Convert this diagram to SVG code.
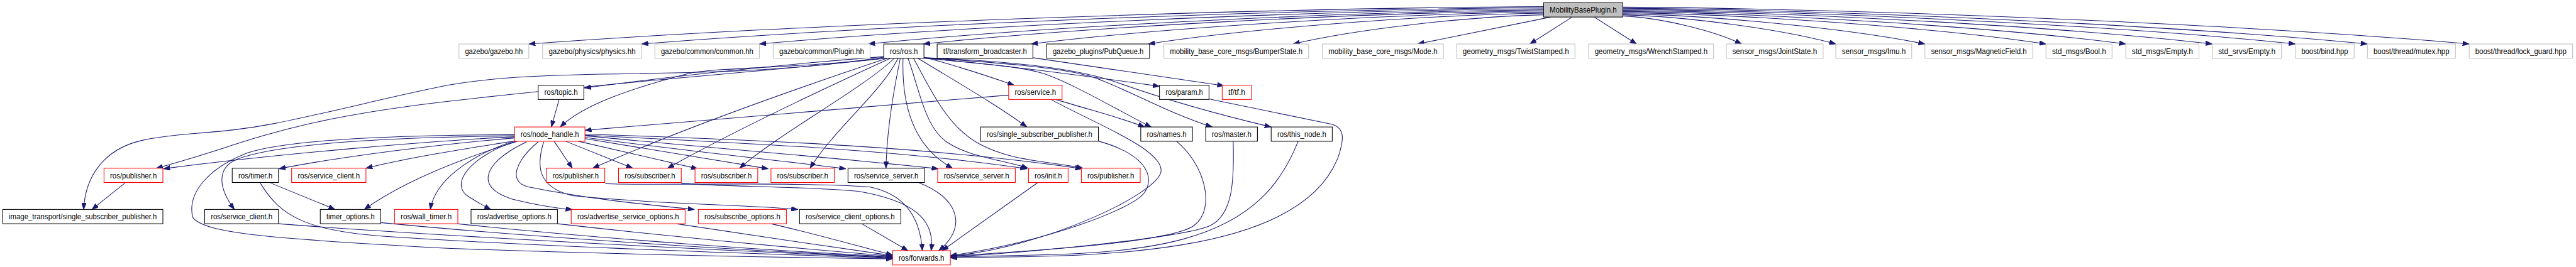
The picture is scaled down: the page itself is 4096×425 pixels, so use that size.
<svg xmlns="http://www.w3.org/2000/svg" width="4096" height="425" viewBox="0 0 4096 425">
<style>
.e{fill:none;stroke:#191970;stroke-width:1.2;marker-end:url(#a)}
rect{fill:#fff;stroke-width:1.2}
.k{stroke:#000}
.r{stroke:#ff0000}
.g{stroke:#bfbfbf}
.root{fill:#bfbfbf;stroke:#000}
text{font-family:"Liberation Sans",Arial,sans-serif;font-size:14px;fill:#000;text-anchor:middle}
</style>
<defs>
<marker id="a" markerUnits="userSpaceOnUse" markerWidth="12" markerHeight="9" viewBox="0 0 12 9" refX="12" refY="4.5" orient="auto"><path d="M0,0L12,4.5L0,9z" fill="#191970" stroke="#191970" stroke-width="0.8"/></marker>
</defs>
<rect x="0" y="0" width="4096" height="425" style="fill:#fff;stroke:none"/>
<g transform="scale(0.875)">
<g id="connectors">
<path class="e" d="M2805,12 C2252,15 1422,46 961,80"/>
<path class="e" d="M2805,14 C2313,17 1576,47 1166,80"/>
<path class="e" d="M2805,16 C2378,19 1736,48 1380,80"/>
<path class="e" d="M2805,18 C2437,21 1885,49 1578,80"/>
<path class="e" d="M2805,20 C2467,23 1960,50 1678,80"/>
<path class="e" d="M2805,22 C2526,25 2107,51 1874,80"/>
<path class="e" d="M2805,24 C2590,27 2267,52 2087,80"/>
<path class="e" d="M2805,27 C2668,30 2464,53 2350,80"/>
<path class="e" d="M2818,31 L2576,80"/>
<path class="e" d="M2857,31 L2780,80"/>
<path class="e" d="M2897,31 L2974,80"/>
<path class="e" d="M2949,29 C3014,32 3111,54 3165,80"/>
<path class="e" d="M2949,27 C3065,30 3239,53 3336,80"/>
<path class="e" d="M2949,25 C3114,28 3361,52 3498,80"/>
<path class="e" d="M2949,23 C3180,26 3526,51 3718,80"/>
<path class="e" d="M2949,21 C3223,24 3634,50 3863,80"/>
<path class="e" d="M2949,19 C3270,22 3752,49 4020,80"/>
<path class="e" d="M2949,17 C3316,20 3865,48 4171,80"/>
<path class="e" d="M2949,15 C3355,18 3964,47 4302,80"/>
<path class="e" d="M2949,13 C3410,16 4102,46 4487,80"/>
<path class="e" d="M1606,104 C1450,128 1300,132 1150,134 S900,140 820,154 S600,205 497,225 S330,240 260,255 S155,320 152,381"/>
<path class="e" d="M1608,106 C1400,130 1100,150 800,186 S450,262 284,306"/>
<path class="e" d="M1606,103 C1450,115 1250,135 1062,160"/>
<path class="e" d="M1606,106 C1450,125 1300,122 1250,134 C1150,160 1060,190 1018,231"/>
<path class="e" d="M1612,106 C1480,150 1250,230 1077,306"/>
<path class="e" d="M1618,106 C1500,160 1330,240 1213,306"/>
<path class="e" d="M1625,106 C1570,160 1420,240 1344,306"/>
<path class="e" d="M1632,106 C1600,170 1520,230 1472,306"/>
<path class="e" d="M1636,106 C1625,160 1612,230 1610,306"/>
<path class="e" d="M1641,106 C1638,200 1665,270 1731,306"/>
<path class="e" d="M1650,106 C1670,160 1680,230 1720,258 S1820,290 1868,306"/>
<path class="e" d="M1660,106 C1690,160 1720,230 1780,262 S1900,292 1968,306"/>
<path class="e" d="M1668,106 C1740,150 1810,190 1866,231"/>
<path class="e" d="M1679,104 C1740,120 1800,140 1843,155"/>
<path class="e" d="M1679,106 C1800,115 1950,135 2107,157"/>
<path class="e" d="M1679,105 C1760,115 1840,118 1890,132 S2030,200 2092,231"/>
<path class="e" d="M1679,105 C1800,113 1930,122 1985,140 S2120,205 2203,231"/>
<path class="e" d="M1679,105 C1850,112 1960,125 2030,150 S2200,205 2310,231"/>
<path class="e" d="M1877,105 L2224,156"/>
<path class="e" d="M1919,181 C1980,200 2040,215 2080,231"/>
<path class="e" d="M1833,173 L1063,237"/>
<path class="e" d="M1910,181 C1990,225 2110,270 2110,310 S1900,450 1727,466"/>
<path class="e" d="M1016,181 L1002,231"/>
<path class="e" d="M935,249 C800,255 500,280 297,307"/>
<path class="e" d="M935,251 C800,262 620,285 507,307"/>
<path class="e" d="M938,256 C850,270 740,287 665,306"/>
<path class="e" d="M940,257 C850,285 740,325 662,381"/>
<path class="e" d="M932,257 C850,285 790,330 782,381"/>
<path class="e" d="M935,247 C700,250 500,262 430,290 C395,305 395,340 426,381"/>
<path class="e" d="M935,245 C700,246 520,255 450,278 C380,305 340,350 350,395 C370,425 500,435 820,452 C1100,462 1400,468 1622,471"/>
<path class="e" d="M936,257 C855,285 815,335 852,358 C868,368 880,375 892,381"/>
<path class="e" d="M957,258 C880,295 860,340 930,362 C970,372 1000,378 1040,381"/>
<path class="e" d="M978,258 C940,290 920,330 960,340 C1060,360 1150,370 1262,381"/>
<path class="e" d="M988,258 C975,300 975,340 1040,356 C1200,372 1350,372 1450,381"/>
<path class="e" d="M1007,257 L1040,306"/>
<path class="e" d="M1028,257 L1150,306"/>
<path class="e" d="M1051,257 L1268,307"/>
<path class="e" d="M1062,252 L1396,307"/>
<path class="e" d="M1063,250 C1250,275 1400,290 1537,307"/>
<path class="e" d="M1063,247 C1300,270 1500,285 1705,307"/>
<path class="e" d="M1063,246 C1400,262 1650,275 1866,307"/>
<path class="e" d="M1063,244 C1400,255 1700,268 1966,307"/>
<path class="e" d="M227,333 L167,381"/>
<path class="e" d="M492,333 L609,381"/>
<path class="e" d="M473,333 C510,395 560,420 700,430 C1000,450 1400,462 1622,470"/>
<path class="e" d="M506,407 C800,430 1300,455 1622,469"/>
<path class="e" d="M692,405 C1000,435 1400,458 1622,468"/>
<path class="e" d="M831,407 C1100,435 1400,456 1622,467"/>
<path class="e" d="M1013,407 C1200,428 1450,452 1622,466"/>
<path class="e" d="M1229,407 C1350,425 1500,448 1622,465"/>
<path class="e" d="M1401,407 C1480,425 1560,448 1622,464"/>
<path class="e" d="M1566,407 L1650,456"/>
<path class="e" d="M1100,334 C1150,338 1450,330 1580,340 C1640,352 1672,390 1676,456"/>
<path class="e" d="M1238,333 C1300,340 1450,338 1560,348 C1660,365 1700,400 1692,456"/>
<path class="e" d="M1669,332 C1740,360 1760,410 1706,456"/>
<path class="e" d="M1886,332 L1712,456"/>
<path class="e" d="M1997,257 C2080,280 2100,320 2080,350 S1900,440 1727,465"/>
<path class="e" d="M2138,257 C2190,300 2210,380 2170,410 S1900,455 1727,466"/>
<path class="e" d="M2241,257 C2243,330 2240,390 2200,410 S1900,458 1727,467"/>
<path class="e" d="M2359,257 C2330,330 2280,400 2150,435 S1850,462 1727,468"/>
<path class="e" d="M2197,180 L2420,226 C2445,233 2442,255 2432,285 C2400,370 2300,420 2150,445 S1850,466 1727,469"/>
</g>
<g id="n-root"><rect class="root" x="2805" y="5" width="144" height="26"/><text x="2877" y="23" textLength="122" lengthAdjust="spacingAndGlyphs">MobilityBasePlugin.h</text></g>
<g id="n-gazebo"><rect class="g" x="834" y="80" width="127" height="26"/><text x="897.5" y="98" textLength="105" lengthAdjust="spacingAndGlyphs">gazebo/gazebo.hh</text></g>
<g id="n-physics"><rect class="g" x="986" y="80" width="180" height="26"/><text x="1076" y="98" textLength="158" lengthAdjust="spacingAndGlyphs">gazebo/physics/physics.hh</text></g>
<g id="n-common"><rect class="g" x="1190" y="80" width="190" height="26"/><text x="1285" y="98" textLength="168" lengthAdjust="spacingAndGlyphs">gazebo/common/common.hh</text></g>
<g id="n-plugin"><rect class="g" x="1405" y="80" width="176" height="26"/><text x="1493" y="98" textLength="154" lengthAdjust="spacingAndGlyphs">gazebo/common/Plugin.hh</text></g>
<g id="n-ros"><rect class="k" x="1606" y="80" width="73" height="26"/><text x="1642.5" y="98" textLength="51" lengthAdjust="spacingAndGlyphs">ros/ros.h</text></g>
<g id="n-tfbc"><rect class="k" x="1703" y="80" width="174" height="26"/><text x="1790" y="98" textLength="152" lengthAdjust="spacingAndGlyphs">tf/transform_broadcaster.h</text></g>
<g id="n-pubqueue"><rect class="k" x="1902" y="80" width="187" height="26"/><text x="1995.5" y="98" textLength="165" lengthAdjust="spacingAndGlyphs">gazebo_plugins/PubQueue.h</text></g>
<g id="n-bumper"><rect class="g" x="2115" y="80" width="263" height="26"/><text x="2246.5" y="98" textLength="241" lengthAdjust="spacingAndGlyphs">mobility_base_core_msgs/BumperState.h</text></g>
<g id="n-mode"><rect class="g" x="2403" y="80" width="220" height="26"/><text x="2513" y="98" textLength="198" lengthAdjust="spacingAndGlyphs">mobility_base_core_msgs/Mode.h</text></g>
<g id="n-twist"><rect class="g" x="2647" y="80" width="215" height="26"/><text x="2754.5" y="98" textLength="193" lengthAdjust="spacingAndGlyphs">geometry_msgs/TwistStamped.h</text></g>
<g id="n-wrench"><rect class="g" x="2887" y="80" width="227" height="26"/><text x="3000.5" y="98" textLength="205" lengthAdjust="spacingAndGlyphs">geometry_msgs/WrenchStamped.h</text></g>
<g id="n-joint"><rect class="g" x="3137" y="80" width="176" height="26"/><text x="3225" y="98" textLength="154" lengthAdjust="spacingAndGlyphs">sensor_msgs/JointState.h</text></g>
<g id="n-imu"><rect class="g" x="3336" y="80" width="138" height="26"/><text x="3405" y="98" textLength="116" lengthAdjust="spacingAndGlyphs">sensor_msgs/Imu.h</text></g>
<g id="n-mag"><rect class="g" x="3498" y="80" width="196" height="26"/><text x="3596" y="98" textLength="174" lengthAdjust="spacingAndGlyphs">sensor_msgs/MagneticField.h</text></g>
<g id="n-bool"><rect class="g" x="3718" y="80" width="120" height="26"/><text x="3778" y="98" textLength="98" lengthAdjust="spacingAndGlyphs">std_msgs/Bool.h</text></g>
<g id="n-empty"><rect class="g" x="3863" y="80" width="133" height="26"/><text x="3929.5" y="98" textLength="111" lengthAdjust="spacingAndGlyphs">std_msgs/Empty.h</text></g>
<g id="n-srvempty"><rect class="g" x="4020" y="80" width="126" height="26"/><text x="4083" y="98" textLength="104" lengthAdjust="spacingAndGlyphs">std_srvs/Empty.h</text></g>
<g id="n-bind"><rect class="g" x="4171" y="80" width="107" height="26"/><text x="4224.5" y="98" textLength="85" lengthAdjust="spacingAndGlyphs">boost/bind.hpp</text></g>
<g id="n-mutex"><rect class="g" x="4302" y="80" width="160" height="26"/><text x="4382" y="98" textLength="138" lengthAdjust="spacingAndGlyphs">boost/thread/mutex.hpp</text></g>
<g id="n-lockguard"><rect class="g" x="4487" y="80" width="188" height="26"/><text x="4581" y="98" textLength="166" lengthAdjust="spacingAndGlyphs">boost/thread/lock_guard.hpp</text></g>
<g id="n-topic"><rect class="k" x="978" y="155" width="83" height="26"/><text x="1019.5" y="173" textLength="61" lengthAdjust="spacingAndGlyphs">ros/topic.h</text></g>
<g id="n-service"><rect class="r" x="1833" y="155" width="97" height="26"/><text x="1881.5" y="173" textLength="75" lengthAdjust="spacingAndGlyphs">ros/service.h</text></g>
<g id="n-param"><rect class="k" x="2107" y="155" width="90" height="26"/><text x="2152" y="173" textLength="68" lengthAdjust="spacingAndGlyphs">ros/param.h</text></g>
<g id="n-tf"><rect class="r" x="2221" y="155" width="53" height="26"/><text x="2247.5" y="173" textLength="31" lengthAdjust="spacingAndGlyphs">tf/tf.h</text></g>
<g id="n-nodehandle"><rect class="r" x="935" y="231" width="128" height="26"/><text x="999" y="249" textLength="106" lengthAdjust="spacingAndGlyphs">ros/node_handle.h</text></g>
<g id="n-ssp"><rect class="k" x="1782" y="231" width="214" height="26"/><text x="1889" y="249" textLength="192" lengthAdjust="spacingAndGlyphs">ros/single_subscriber_publisher.h</text></g>
<g id="n-names"><rect class="k" x="2073" y="231" width="94" height="26"/><text x="2120" y="249" textLength="72" lengthAdjust="spacingAndGlyphs">ros/names.h</text></g>
<g id="n-master"><rect class="k" x="2191" y="231" width="94" height="26"/><text x="2238" y="249" textLength="72" lengthAdjust="spacingAndGlyphs">ros/master.h</text></g>
<g id="n-thisnode"><rect class="k" x="2310" y="231" width="111" height="26"/><text x="2365.5" y="249" textLength="89" lengthAdjust="spacingAndGlyphs">ros/this_node.h</text></g>
<g id="n-pubA"><rect class="r" x="189" y="306" width="107" height="26"/><text x="242.5" y="324" textLength="85" lengthAdjust="spacingAndGlyphs">ros/publisher.h</text></g>
<g id="n-timer"><rect class="k" x="422" y="306" width="84" height="26"/><text x="464" y="324" textLength="62" lengthAdjust="spacingAndGlyphs">ros/timer.h</text></g>
<g id="n-sclientR"><rect class="r" x="530" y="306" width="135" height="26"/><text x="597.5" y="324" textLength="113" lengthAdjust="spacingAndGlyphs">ros/service_client.h</text></g>
<g id="n-pubB"><rect class="r" x="993" y="306" width="106" height="26"/><text x="1046" y="324" textLength="84" lengthAdjust="spacingAndGlyphs">ros/publisher.h</text></g>
<g id="n-sub1"><rect class="r" x="1124" y="306" width="114" height="26"/><text x="1181" y="324" textLength="92" lengthAdjust="spacingAndGlyphs">ros/subscriber.h</text></g>
<g id="n-sub2"><rect class="r" x="1263" y="306" width="114" height="26"/><text x="1320" y="324" textLength="92" lengthAdjust="spacingAndGlyphs">ros/subscriber.h</text></g>
<g id="n-sub3"><rect class="r" x="1401" y="306" width="115" height="26"/><text x="1458.5" y="324" textLength="93" lengthAdjust="spacingAndGlyphs">ros/subscriber.h</text></g>
<g id="n-ssrvK"><rect class="k" x="1541" y="306" width="139" height="26"/><text x="1610.5" y="324" textLength="117" lengthAdjust="spacingAndGlyphs">ros/service_server.h</text></g>
<g id="n-ssrvR"><rect class="r" x="1704" y="306" width="141" height="26"/><text x="1774.5" y="324" textLength="119" lengthAdjust="spacingAndGlyphs">ros/service_server.h</text></g>
<g id="n-init"><rect class="r" x="1869" y="306" width="72" height="26"/><text x="1905" y="324" textLength="50" lengthAdjust="spacingAndGlyphs">ros/init.h</text></g>
<g id="n-pubC"><rect class="r" x="1965" y="306" width="107" height="26"/><text x="2018.5" y="324" textLength="85" lengthAdjust="spacingAndGlyphs">ros/publisher.h</text></g>
<g id="n-itssp"><rect class="k" x="5" y="381" width="291" height="26"/><text x="150.5" y="399" textLength="269" lengthAdjust="spacingAndGlyphs">image_transport/single_subscriber_publisher.h</text></g>
<g id="n-sclientK"><rect class="k" x="372" y="381" width="134" height="26"/><text x="439" y="399" textLength="112" lengthAdjust="spacingAndGlyphs">ros/service_client.h</text></g>
<g id="n-timeropts"><rect class="k" x="582" y="381" width="110" height="26"/><text x="637" y="399" textLength="88" lengthAdjust="spacingAndGlyphs">timer_options.h</text></g>
<g id="n-walltimer"><rect class="r" x="717" y="381" width="115" height="26"/><text x="774.5" y="399" textLength="93" lengthAdjust="spacingAndGlyphs">ros/wall_timer.h</text></g>
<g id="n-advopts"><rect class="k" x="856" y="381" width="157" height="26"/><text x="934.5" y="399" textLength="135" lengthAdjust="spacingAndGlyphs">ros/advertise_options.h</text></g>
<g id="n-advsrvopts"><rect class="r" x="1038" y="381" width="207" height="26"/><text x="1141.5" y="399" textLength="185" lengthAdjust="spacingAndGlyphs">ros/advertise_service_options.h</text></g>
<g id="n-subopts"><rect class="r" x="1269" y="381" width="160" height="26"/><text x="1349" y="399" textLength="138" lengthAdjust="spacingAndGlyphs">ros/subscribe_options.h</text></g>
<g id="n-scopts"><rect class="k" x="1453" y="381" width="184" height="26"/><text x="1545" y="399" textLength="162" lengthAdjust="spacingAndGlyphs">ros/service_client_options.h</text></g>
<g id="n-forwards"><rect class="r" x="1622" y="456" width="105" height="26"/><text x="1674.5" y="474" textLength="83" lengthAdjust="spacingAndGlyphs">ros/forwards.h</text></g>
</g>
</svg>
